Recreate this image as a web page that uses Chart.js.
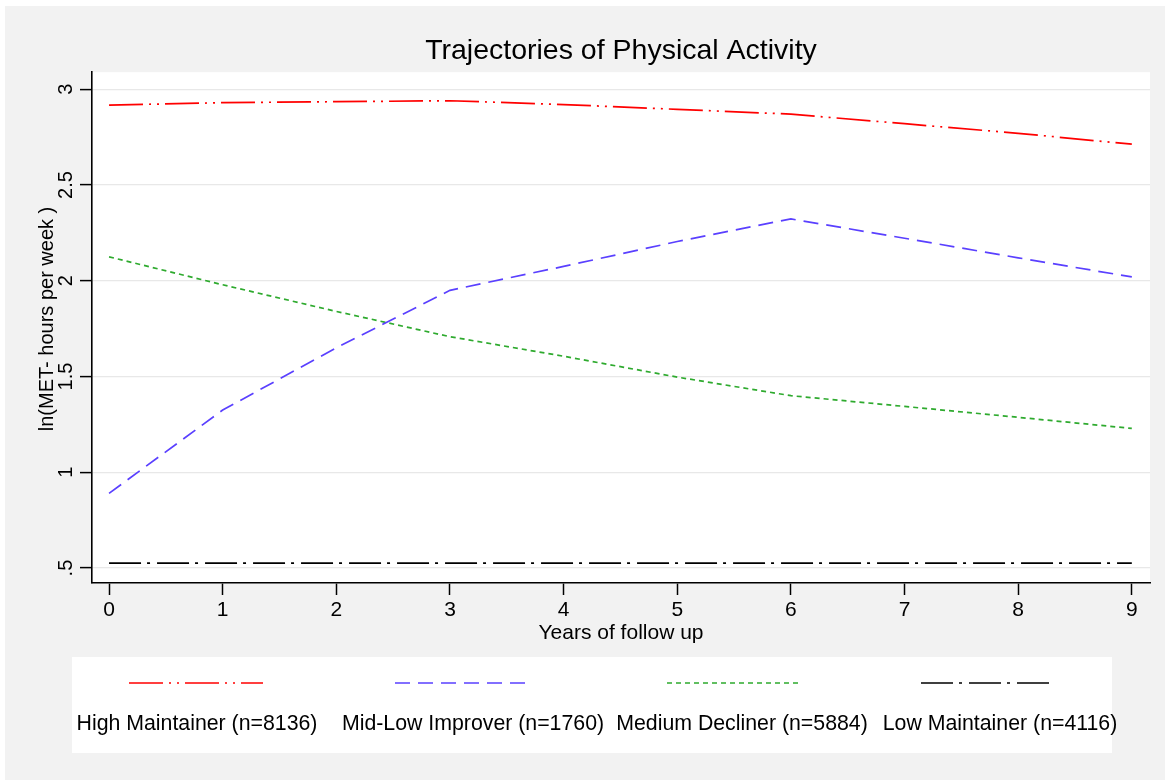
<!DOCTYPE html>
<html>
<head>
<meta charset="utf-8">
<title>Trajectories of Physical Activity</title>
<script src="https://cdn.jsdelivr.net/npm/chart.js@4.4.0/dist/chart.umd.min.js"></script>
<style>
    html, body { margin: 0; padding: 0; background: #ffffff; }
    #wrap { position: relative; width: 1167px; height: 783px; }
</style>
</head>
<body>
<div id="wrap"><canvas id="trajChart"></canvas></div>
<script>
// anni di follow up (asse x)
const years = [0, 1, 2, 3, 4, 5, 6, 7, 8, 9];

// valori, ln(MET-hours per week)
const highMaintainer = [2.917, 2.930, 2.935, 2.940, 2.920, 2.895, 2.870, 2.820, 2.770, 2.713];
const midLowImprover = [0.890, 1.325, 1.650, 1.950, 2.075, 2.205, 2.323, 2.222, 2.120, 2.020];
const mediumDecliner = [2.125, 1.979, 1.840, 1.708, 1.606, 1.497, 1.400, 1.344, 1.287, 1.229];
const lowMaintainer  = [0.526, 0.526, 0.526, 0.526, 0.526, 0.526, 0.526, 0.526, 0.526, 0.526];

const groupLabels = [
    "High Maintainer (n=8136)",
    "Mid-Low Improver (n=1760)",
    "Medium Decliner (n=5884)",
    "Low Maintainer (n=4116)"
];

const yTickValues = [0.5, 1, 1.5, 2, 2.5, 3];
const yTickLabels = [".5", "1", "1.5", "2", "2.5", "3"];

const FONT = "'Liberation Sans', Arial, Helvetica, sans-serif";

function toPoints(values) {
    return years.map((x, i) => ({ x: x, y: values[i] }));
}

// sfondo grigio + area del grafico bianca
const backgroundPlugin = {
    id: 'stataBackground',
    beforeDraw(chart) {
        const ctx = chart.ctx;
        const a = chart.chartArea;
        ctx.save();
        ctx.fillStyle = '#ffffff';
        ctx.fillRect(0, 0, chart.width, chart.height);
        ctx.fillStyle = '#f2f2f2';
        ctx.fillRect(5, 6, 1160, 774);
        ctx.fillStyle = '#ffffff';
        ctx.fillRect(a.left, a.top, a.right - a.left, a.bottom - a.top);
        ctx.restore();
    }
};

// etichette dell'asse y ruotate (stile Stata) e titolo asse y
const yLabelsPlugin = {
    id: 'yLabels',
    afterDraw(chart) {
        const ctx = chart.ctx;
        const scale = chart.scales.y;
        ctx.save();
        ctx.fillStyle = '#000000';
        ctx.font = '20px ' + FONT;
        ctx.textAlign = 'center';
        ctx.textBaseline = 'alphabetic';
        yTickValues.forEach((v, i) => {
            const py = scale.getPixelForValue(v);
            ctx.save();
            ctx.translate(72, py);
            ctx.rotate(-Math.PI / 2);
            ctx.fillText(yTickLabels[i], 0, 0);
            ctx.restore();
        });
        ctx.translate(53, 319);
        ctx.rotate(-Math.PI / 2);
        ctx.fillText('ln(MET- hours per week )', 0, 0);
        ctx.restore();
    }
};

// legenda sotto al grafico, in un riquadro bianco
const legendPlugin = {
    id: 'boxLegend',
    afterDraw(chart) {
        const ctx = chart.ctx;
        const lineCenters = [196, 462, 734, 988];
        const textCenters = [197, 473, 742, 1000];
        ctx.save();
        ctx.fillStyle = '#ffffff';
        ctx.fillRect(72, 657, 1040, 96);
        chart.data.datasets.forEach((ds, i) => {
            ctx.strokeStyle = ds.borderColor;
            ctx.lineWidth = ds.borderWidth;
            ctx.setLineDash(ds.borderDash);
            ctx.beginPath();
            ctx.moveTo(lineCenters[i] - 67, 683);
            ctx.lineTo(lineCenters[i] + 67, 683);
            ctx.stroke();
            ctx.setLineDash([]);
            ctx.fillStyle = '#000000';
            ctx.font = '21.3px ' + FONT;
            ctx.textAlign = 'center';
            ctx.textBaseline = 'middle';
            ctx.fillText(ds.label, textCenters[i], 724);
        });
        ctx.restore();
    }
};

function buildChart() {
    const ctx = document.getElementById('trajChart');
    new Chart(ctx, {
        type: 'line',
        data: {
            datasets: [
                {
                    label: groupLabels[0],
                    data: toPoints(highMaintainer),
                    borderColor: '#ff0000',
                    borderWidth: 1.7,
                    borderDash: [34, 6, 2, 6, 2, 6]
                },
                {
                    label: groupLabels[1],
                    data: toPoints(midLowImprover),
                    borderColor: '#5a40ff',
                    borderWidth: 1.7,
                    borderDash: [15, 8]
                },
                {
                    label: groupLabels[2],
                    data: toPoints(mediumDecliner),
                    borderColor: '#2eaa2e',
                    borderWidth: 1.7,
                    borderDash: [5, 4]
                },
                {
                    label: groupLabels[3],
                    data: toPoints(lowMaintainer),
                    borderColor: '#000000',
                    borderWidth: 1.7,
                    borderDash: [32, 6, 3, 7]
                }
            ]
        },
        options: {
            responsive: false,
            animation: false,
            devicePixelRatio: 1,
            layout: { padding: { left: 0, right: 17, top: 0, bottom: 130 } },
            elements: {
                point: { radius: 0, hoverRadius: 0 },
                line: { tension: 0, fill: false }
            },
            plugins: {
                legend: { display: false },
                tooltip: { enabled: false },
                title: {
                    display: true,
                    fullSize: false,
                    text: 'Trajectories of Physical Activity',
                    color: '#000000',
                    font: { family: FONT, size: 28.5, weight: 'normal' },
                    padding: { top: 34, bottom: 4 }
                }
            },
            scales: {
                x: {
                    type: 'linear',
                    min: -0.15,
                    max: 9.16,
                    afterFit(scale) { scale.height = 70; },
                    ticks: {
                        stepSize: 1,
                        includeBounds: false,
                        color: '#000000',
                        padding: 3,
                        maxRotation: 0,
                        font: { family: FONT, size: 21 }
                    },
                    grid: {
                        drawOnChartArea: false,
                        drawTicks: true,
                        tickLength: 12,
                        tickColor: '#000000',
                        tickWidth: 1.5
                    },
                    border: { color: '#000000', width: 1.6 },
                    title: {
                        display: true,
                        text: 'Years of follow up',
                        color: '#000000',
                        font: { family: FONT, size: 21 },
                        padding: { top: 0, bottom: 7 }
                    }
                },
                y: {
                    type: 'linear',
                    min: 0.422,
                    max: 3.089,
                    afterFit(scale) { scale.width = 92; },
                    ticks: {
                        stepSize: 0.5,
                        includeBounds: false,
                        display: false
                    },
                    grid: {
                        color: '#e8e8e8',
                        lineWidth: 1.2,
                        drawTicks: true,
                        tickLength: 12,
                        tickColor: '#000000',
                        tickWidth: 1.5
                    },
                    border: { color: '#000000', width: 1.6 }
                }
            }
        },
        plugins: [backgroundPlugin, yLabelsPlugin, legendPlugin]
    });
}

const canvas = document.getElementById('trajChart');
canvas.width = 1167;
canvas.height = 783;
buildChart();
</script>
</body>
</html>
